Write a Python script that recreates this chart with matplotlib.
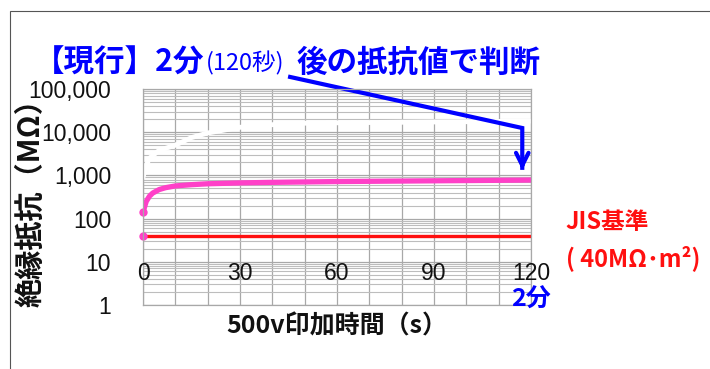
import numpy as np
import matplotlib
matplotlib.use('Agg')
import matplotlib.pyplot as plt
from matplotlib.patches import Rectangle

plt.rcParams['font.family'] = ['Noto Sans CJK JP', 'DejaVu Sans']

# Data
time_s = [0, 1, 2, 5, 10, 15, 20, 30, 45, 60, 80, 100, 120]
resist_white = [900, 1700, 2500, 3800, 5000, 7500, 9600, 13000, 16000, 16500, 17000, 17500, 18000]
pink_time = [0, 1, 2, 3, 5, 7, 10, 15, 20, 30, 40, 60, 90, 120]
resist_pink = [140, 250, 330, 390, 470, 520, 570, 610, 640, 670, 690, 720, 750, 780]
jis_time = [0, 120]
jis_value = [40, 40]

x_ticks = [0, 30, 60, 90, 120]
y_ticks = [1, 10, 100, 1000, 10000, 100000]
y_tick_labels = ['1', '10', '100', '1,000', '10,000', '100,000']

W, H = 710, 369
fig = plt.figure(figsize=(W / 100, H / 100), dpi=100)


def fx(x):
    return x / W


def fy(y):
    return 1 - y / H


# outer frame of the original picture
fig.patches.append(Rectangle((fx(9.5), -0.2), 1.5, fy(11) + 0.2, transform=fig.transFigure,
                             fill=False, edgecolor='#555555', linewidth=0.8))

ax = fig.add_axes([fx(143), fy(305), (531 - 143) / W, (305 - 89) / H])
ax.set_yscale('log')
ax.set_xlim(0, 120)
ax.set_ylim(1, 100000)

# grid
ax.set_xticks(np.arange(0, 121, 10))
ax.set_xticklabels([])
ax.set_yticks(y_ticks)
ax.set_yticklabels(y_tick_labels, fontfamily='Liberation Sans', fontsize=16.5, color='#111111')
ax.yaxis.set_minor_locator(matplotlib.ticker.LogLocator(base=10, subs=np.arange(2, 10)))
ax.yaxis.set_minor_formatter(matplotlib.ticker.NullFormatter())
ax.tick_params(axis='both', which='both', length=0)
ax.tick_params(axis='y', pad=23)
ax.grid(True, which='major', color='#a8a8a8', linewidth=0.9)
ax.grid(True, which='minor', axis='y', color='#bdbdbd', linewidth=0.8)
for s in ax.spines.values():
    s.set_color('#a8a8a8')
    s.set_linewidth(0.9)

# series
ax.plot(time_s, resist_white, color='white', linewidth=3.5, solid_capstyle='round')
ax.plot(jis_time, jis_value, color='#ff1010', linewidth=2.4)
ax.plot(pink_time, resist_pink, color='#ff40c8', linewidth=3.8, solid_capstyle='butt')
ax.plot([0], [resist_pink[0]], 'o', color='#ff40c8', markersize=5, clip_on=False)
ax.plot([0], [jis_value[0]], 'o', color='#ff40c8', markersize=5, clip_on=False)

# x tick labels sit on the 10 line
for t in x_ticks:
    ax.text(t, 10, str(t), ha='center', va='top', fontsize=16.5,
            fontfamily='Liberation Sans', color='#111111')

# arrow from the title to the 120 s reading
ax.plot([45.5, 117.3, 117.3], [190000, 12500, 1500], color='#0000ff', linewidth=3,
        clip_on=False, solid_joinstyle='miter')
ax.annotate('', xy=(117.3, 1150), xytext=(117.3, 2500),
            arrowprops=dict(arrowstyle='->,head_length=0.9,head_width=0.45', color='#0000ff', lw=3),
            annotation_clip=False)

# title
blue = '#0000ff'
fig.text(fx(34), fy(72), '【現行】2分', color=blue, fontsize=22, fontweight='bold', va='baseline')
fig.text(fx(206), fy(70), '(120秒)', color=blue, fontsize=17, va='baseline')
fig.text(fx(296), fy(72), '後の抵抗値で判断', color=blue, fontsize=22, fontweight='bold', va='baseline')

# axis labels
fig.text(fx(31), fy(196), '絶縁抵抗（MΩ）', rotation=90, ha='center', va='center',
         fontsize=21, fontweight='bold', color='#111111')
fig.text(fx(337), fy(326), '500v印加時間（s）', ha='center', va='center',
         fontsize=18, fontweight='bold', color='#111111')

# side notes
fig.text(fx(531), fy(300), '2分', ha='center', va='center', color=blue, fontsize=18, fontweight='bold')
fig.text(fx(565), fy(222), 'JIS基準', ha='left', va='center', color='#ff1010', fontsize=17, fontweight='bold')
fig.text(fx(566), fy(258), '( 40MΩ･m²)', ha='left', va='center', color='#ff1010', fontsize=17, fontweight='bold')

fig.savefig('out.png', dpi=100)
